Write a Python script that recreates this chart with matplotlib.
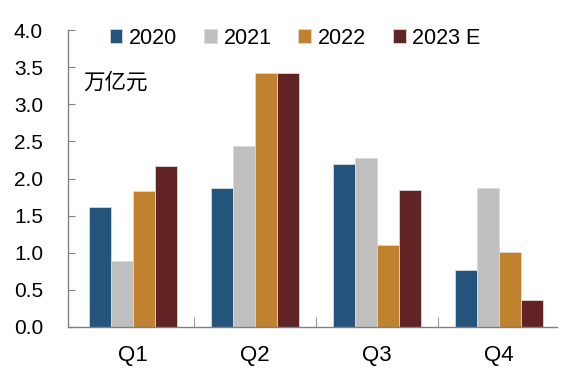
import matplotlib
matplotlib.use("Agg")
import matplotlib.pyplot as plt
import numpy as np

categories = ["Q1", "Q2", "Q3", "Q4"]
series_names = ["2020", "2021", "2022", "2023 E"]
v2020 = [1.61, 1.87, 2.20, 0.76]
v2021 = [0.88, 2.44, 2.27, 1.87]
v2022 = [1.83, 3.42, 1.10, 1.01]
v2023 = [2.17, 3.42, 1.85, 0.36]
yticks = [0.0, 0.5, 1.0, 1.5, 2.0, 2.5, 3.0, 3.5, 4.0]
unit_label = "万亿元"

colors = ["#24547B", "#BFBFBF", "#C0822F", "#622325"]
plt.rcParams['font.family'] = ['Liberation Sans', 'Noto Sans CJK SC', 'DejaVu Sans']

fig = plt.figure(figsize=(5.63, 3.70), dpi=100)
ax = fig.add_axes([68/563, 1-326.7/370, (557-68)/563, (326.7-30.3)/370])

x = np.arange(len(categories))
w = 0.182
allv = [v2020, v2021, v2022, v2023]
for i, (vals, name, c) in enumerate(zip(allv, series_names, colors)):
    ax.bar(x + (i - 1.5) * w, vals, w, color=c, label=name,
           edgecolor="#D9D9D9", linewidth=0.6)

ax.set_ylim(0, 4.0)
ax.set_xlim(-0.533, 3.475)
ax.set_yticks(yticks)
ax.set_yticklabels([f"{t:.1f}" for t in yticks], fontsize=15)
ax.tick_params(axis='y', direction='in', length=5, color="#808080", pad=18)
ax.set_xticks(x)
ax.set_xticklabels(categories, fontsize=16)
ax.tick_params(axis='x', which='major', length=0, pad=13)
ax.set_xticks([0.5, 1.5, 2.5], minor=True)
ax.tick_params(axis='x', which='minor', direction='in', length=7, color="#808080")

for s in ["top", "right"]:
    ax.spines[s].set_visible(False)
for s in ["left", "bottom"]:
    ax.spines[s].set_color("#808080")
    ax.spines[s].set_linewidth(1.0)

ax.text(-0.41, 3.29, unit_label, fontsize=15.5, va='center', ha='left')

fig.legend(loc='center', bbox_to_anchor=(295/563, 1-38/370), ncol=4, frameon=False,
           fontsize=15.5, handlelength=0.6, handleheight=0.6, handletextpad=0.3,
           columnspacing=1.25, borderaxespad=0)

fig.savefig("out.png", dpi=100)
